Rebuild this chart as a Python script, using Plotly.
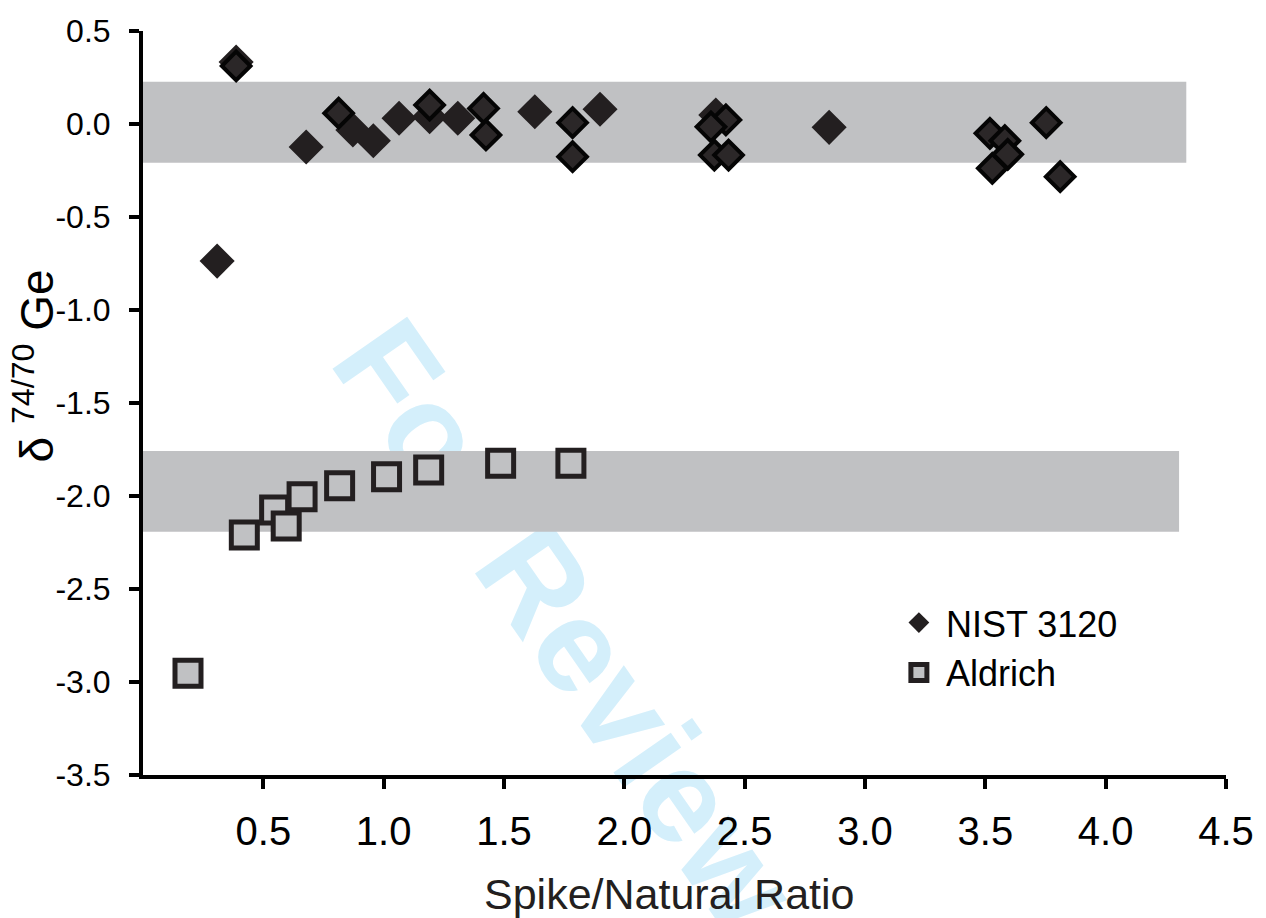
import plotly.graph_objects as go

# ---- data ----
nist_x = [0.387, 0.308, 0.678, 0.872, 0.957, 1.064, 1.191, 1.308, 1.628, 1.899, 2.380, 2.851]
nist_y = [0.333, -0.737, -0.124, -0.032, -0.090, 0.031, 0.039, 0.031, 0.066, 0.079, 0.048, -0.018]

nist2_x = [0.387, 0.813, 1.191, 1.415, 1.425, 1.785, 1.785, 2.422, 2.360, 2.374, 2.433,
           3.519, 3.581, 3.593, 3.529, 3.753, 3.811]
nist2_y = [0.312, 0.058, 0.102, 0.084, -0.059, 0.007, -0.176, 0.022, -0.015, -0.167, -0.167,
           -0.050, -0.090, -0.163, -0.238, 0.007, -0.283]

aldrich_x = [0.187, 0.421, 0.547, 0.595, 0.661, 0.817, 1.012, 1.187, 1.486, 1.778]
aldrich_y = [-2.953, -2.210, -2.075, -2.161, -2.004, -1.945, -1.896, -1.860, -1.824, -1.824]

nist_band = [-0.208, 0.227, 4.335]      # y0, y1, x end
aldrich_band = [-2.192, -1.758, 4.305]

x_ticks = [0.5, 1.0, 1.5, 2.0, 2.5, 3.0, 3.5, 4.0, 4.5]
x_labels = ["0.5", "1.0", "1.5", "2.0", "2.5", "3.0", "3.5", "4.0", "4.5"]
y_ticks = [0.5, 0.0, -0.5, -1.0, -1.5, -2.0, -2.5, -3.0, -3.5]
y_labels = ["0.5", "0.0", "-0.5", "-1.0", "-1.5", "-2.0", "-2.5", "-3.0", "-3.5"]

FONT = "Liberation Sans, Arial, sans-serif"
DARK = "#231f20"
GRAY = "#c0c1c3"

fig = go.Figure()

fig.add_trace(go.Scatter(
    x=nist_x, y=nist_y, mode="markers", name="NIST 3120",
    marker=dict(symbol="diamond", size=27, color=DARK, line=dict(width=0)),
))
fig.add_trace(go.Scatter(
    x=nist2_x, y=nist2_y, mode="markers", name="NIST 3120", showlegend=False,
    marker=dict(symbol="diamond", size=22, color="#2b2728", line=dict(width=4, color="#050505")),
))
fig.add_trace(go.Scatter(
    x=aldrich_x, y=aldrich_y, mode="markers", name="Aldrich",
    marker=dict(symbol="square", size=26, color=GRAY, line=dict(width=5, color=DARK)),
))

shapes = []
for b in (nist_band, aldrich_band):
    shapes.append(dict(type="rect", xref="x", yref="y", x0=0, x1=b[2], y0=b[0], y1=b[1],
                       fillcolor=GRAY, line=dict(width=0), layer="below"))
# watermark
shapes.append(dict(type="line", xref="paper", yref="paper", x0=0.215, y0=0.60, x1=0.76, y1=-0.54,
                   line=dict(width=0, color="rgba(0,0,0,0)"), layer="below",
                   label=dict(text="<b>For Review Only</b>", textposition="middle",
                              yanchor="middle",
                              font=dict(family=FONT, size=132, color="#d4effb"))))

annotations = [
    dict(text="δ <sup>74/70</sup> Ge", xref="paper", yref="paper", x=-0.101, y=0.55,
         xanchor="center", yanchor="middle", textangle=-90, showarrow=False,
         font=dict(family=FONT, size=46, color="black")),
    dict(text="Spike/Natural Ratio", xref="paper", yref="paper", x=0.486, y=-0.160,
         xanchor="center", yanchor="middle", showarrow=False,
         font=dict(family=FONT, size=43, color="#231f20")),
]

fig.update_layout(
    width=1266, height=918,
    margin=dict(l=143, r=33, t=31, b=143, pad=0),
    paper_bgcolor="white", plot_bgcolor="white",
    shapes=shapes, annotations=annotations,
    showlegend=True,
    legend=dict(x=0.6915, y=0.245, xanchor="left", yanchor="top",
                font=dict(family=FONT, size=36, color="black"),
                bgcolor="rgba(0,0,0,0)", tracegroupgap=0, itemwidth=44),
    xaxis=dict(range=[0, 4.5], tickvals=x_ticks, ticktext=x_labels,
               showgrid=False, zeroline=False, showline=True, linecolor="black", linewidth=4,
               ticks="outside", ticklen=10, tickwidth=4, tickcolor="black",
               ticklabelstandoff=8,
               tickfont=dict(family=FONT, size=40, color="black")),
    yaxis=dict(range=[-3.5, 0.5], tickvals=y_ticks, ticktext=y_labels,
               showgrid=False, zeroline=False, showline=True, linecolor="black", linewidth=4,
               ticks="outside", ticklen=10, tickwidth=4, tickcolor="black",
               ticklabelstandoff=12,
               tickfont=dict(family=FONT, size=32, color="black")),
)

fig.write_html("out.html", config={"displayModeBar": False},
               post_script="document.body.style.margin='0px';")
